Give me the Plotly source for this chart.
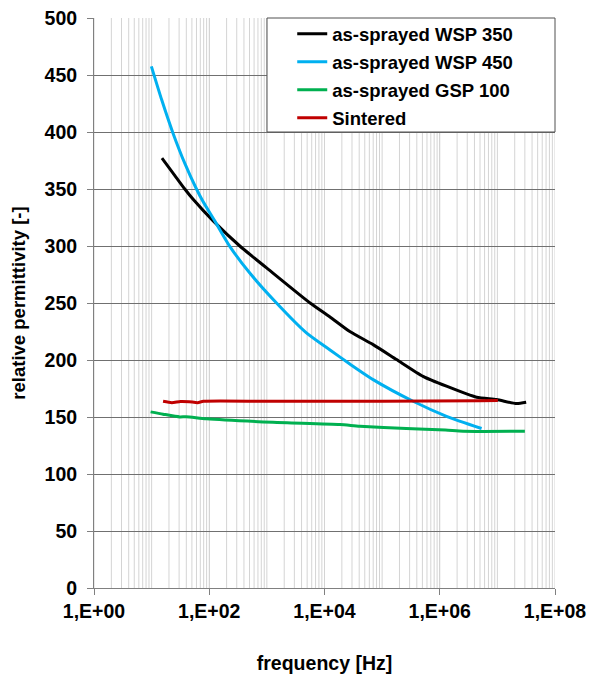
import plotly.graph_objects as go

# Frequency sweeps (Hz) and relative permittivity for each sample
wsp350_f = [15.1, 23.5, 37.6, 52.5, 117, 339, 977, 5620, 12300, 27500,
            69800, 178000, 513000, 1310000, 4360000, 9680000, 21400000, 31600000]
wsp350_eps = [377, 364, 350, 341, 322, 300, 281, 250, 238, 225,
              213.5, 200.4, 185.7, 177, 167.3, 165.3, 161.8, 162.9]

wsp450_f = [9.9, 15.0, 23.5, 38.0, 60, 78, 126, 227, 501, 1470, 4860, 12300,
            27500, 69800, 345000, 1310000, 5320000]
wsp450_eps = [457.6, 428, 399, 372, 350, 339, 321.6, 299.7, 276.5, 250, 223.8, 209,
              196.5, 182.8, 163.8, 150.6, 139.9]

gsp100_f = [9.6, 15.8, 30.8, 39.8, 89.3, 1280, 18500, 41000, 263000,
            1260000, 2550000, 30000000]
gsp100_eps = [154.5, 152.5, 150.1, 150.3, 148.4, 145.4, 143.4, 141.9, 139.9,
              138.5, 137.5, 137.5]

sint_f = [15.8, 22.4, 31.6, 44.7, 63.1, 79.4, 1000, 100000, 5000000, 10200000]
sint_eps = [163.8, 162.6, 163.6, 163.4, 162.6, 163.8, 163.8, 163.8, 164.2, 164.4]

x_tickvals = [1e0, 1e2, 1e4, 1e6, 1e8]
x_ticktext = ["1,E+00", "1,E+02", "1,E+04", "1,E+06", "1,E+08"]
y_tickvals = list(range(0, 501, 50))

# light vertical grid at every k*10^n
grid_vals = [k * 10 ** n for n in range(0, 8) for k in range(1, 10)] + [1e8]

FONT = "Liberation Sans"
LIGHT = "#d4d4d4"

series = [
    ("as-sprayed WSP 350", wsp350_f, wsp350_eps, "#000000"),
    ("as-sprayed WSP 450", wsp450_f, wsp450_eps, "#00b0f0"),
    ("as-sprayed GSP 100", gsp100_f, gsp100_eps, "#00b050"),
    ("Sintered", sint_f, sint_eps, "#c00000"),
]

fig = go.Figure()
for i, (name, fx, fy, col) in enumerate(series):
    fig.add_trace(go.Scatter(
        x=fx, y=fy, name=name, mode="lines", legendgroup=f"g{i}",
        line=dict(color=col, width=3, shape="spline", smoothing=0.6),
    ))

# log-cycle vertical grid, drawn underneath the horizontal gridlines
for gv in grid_vals:
    fig.add_shape(type="line", xref="x", yref="paper", x0=gv, x1=gv, y0=0, y1=1,
                  line=dict(color=LIGHT, width=1), layer="below")

# legend frame covering the upper-right corner of the plot area
fig.add_shape(type="rect", xref="paper", yref="paper",
              x0=0.3753, x1=1.0, y0=0.8, y1=1.0,
              fillcolor="white", line=dict(color="#505050", width=1),
              layer="above")

fig.update_layout(
    width=590, height=675,
    margin=dict(l=94, r=35, t=18, b=87),
    paper_bgcolor="white", plot_bgcolor="white",
    font=dict(family=FONT, color="#000000"),
    showlegend=True,
    legend=dict(
        x=0.43, y=1.005, xanchor="left", yanchor="top",
        bgcolor="rgba(0,0,0,0)", borderwidth=0,
        font=dict(family=FONT, size=18.5, weight="bold", color="#000000"),
        traceorder="grouped", tracegroupgap=1,
    ),
    xaxis=dict(
        type="log", range=[0, 8], automargin=False,
        tickvals=x_tickvals, ticktext=x_ticktext,
        tickfont=dict(family=FONT, size=19.5, weight="bold", color="#000000"),
        ticks="outside", ticklen=6, tickcolor="#808080",
        showgrid=True, gridcolor=LIGHT, gridwidth=1,
        showline=True, linecolor="#808080", linewidth=1,
        zeroline=False,
        title=dict(text="frequency [Hz]", standoff=34,
                   font=dict(family=FONT, size=19.5, weight="bold", color="#000000")),
    ),
    yaxis=dict(
        range=[0, 500], tickvals=y_tickvals, automargin=False,
        tickfont=dict(family=FONT, size=19.5, weight="bold", color="#000000"),
        ticks="outside", ticklen=6, tickcolor="#808080",
        ticklabelstandoff=6,
        showgrid=True, gridcolor="#707070", gridwidth=1,
        showline=True, linecolor="#808080", linewidth=1,
        zeroline=False,
        title=dict(text="relative permittivity [-]", standoff=14,
                   font=dict(family=FONT, size=18.5, weight="bold", color="#000000")),
    ),
)

fig.write_html("out.html")
